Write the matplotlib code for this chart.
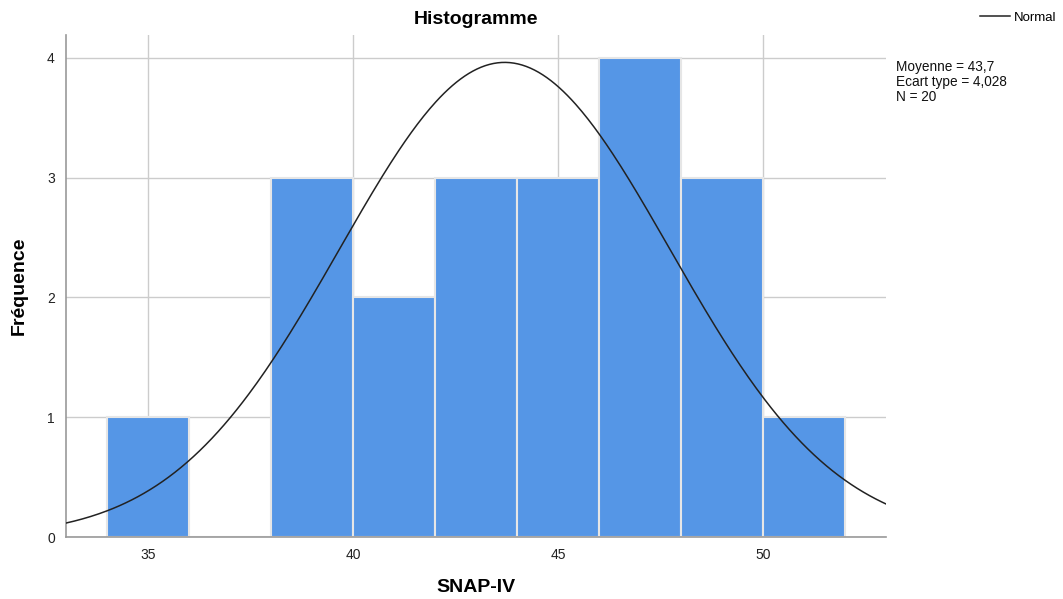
import numpy as np
import matplotlib
matplotlib.use("Agg")
import matplotlib.pyplot as plt

plt.rcParams['font.family'] = ['Liberation Sans', 'DejaVu Sans']

bin_edges = [34, 36, 38, 40, 42, 44, 46, 48, 50, 52]
counts = [1, 0, 3, 2, 3, 3, 4, 3, 1]
mean = 43.7
std = 4.028
n = 20
xticks = [35, 40, 45, 50]
yticks = [0, 1, 2, 3, 4]

fig = plt.figure(figsize=(10.63, 5.99), dpi=100)
ax = fig.add_axes([0.062, 0.1035, 0.7715, 0.838])

ax.set_xlim(33, 53)
ax.set_ylim(0, 4.19)
ax.set_axisbelow(True)
ax.grid(True, color='#cccccc', linewidth=1)

lefts = bin_edges[:-1]
widths = np.diff(bin_edges)
ax.bar(lefts, counts, width=widths, align='edge', color='#5596e6',
       edgecolor='#e6e6e6', linewidth=1.5, zorder=2)

binw = bin_edges[1] - bin_edges[0]
xs = np.linspace(33, 53, 400)
ys = n * binw / (std * np.sqrt(2 * np.pi)) * np.exp(-0.5 * ((xs - mean) / std) ** 2)
line, = ax.plot(xs, ys, color='#222222', linewidth=1.1, zorder=3)

ax.set_xticks(xticks)
ax.set_yticks(yticks)
ax.tick_params(axis='both', length=0, labelsize=10, colors='#222222', pad=8)
for s in ['top', 'right']:
    ax.spines[s].set_visible(False)
for s in ['left', 'bottom']:
    ax.spines[s].set_color('#999999')
    ax.spines[s].set_linewidth(1.2)

ax.set_title('Histogramme', fontsize=14, fontweight='bold', pad=8)
ax.set_xlabel('SNAP-IV', fontsize=14, fontweight='bold', labelpad=12)
ax.set_ylabel('Fréquence', fontsize=14, fontweight='bold', labelpad=14)

fig.text(0.843, 0.900, 'Moyenne = 43,7\nEcart type = 4,028\nN = 20',
         fontsize=9.8, va='top', ha='left', linespacing=1.08, color='#111111')

fig.legend([line], ['Normal'], loc='upper right', bbox_to_anchor=(1.005, 1.0),
           frameon=False, fontsize=9.5, handlelength=2.3, handletextpad=0.3)

fig.savefig('out.png', dpi=100)
